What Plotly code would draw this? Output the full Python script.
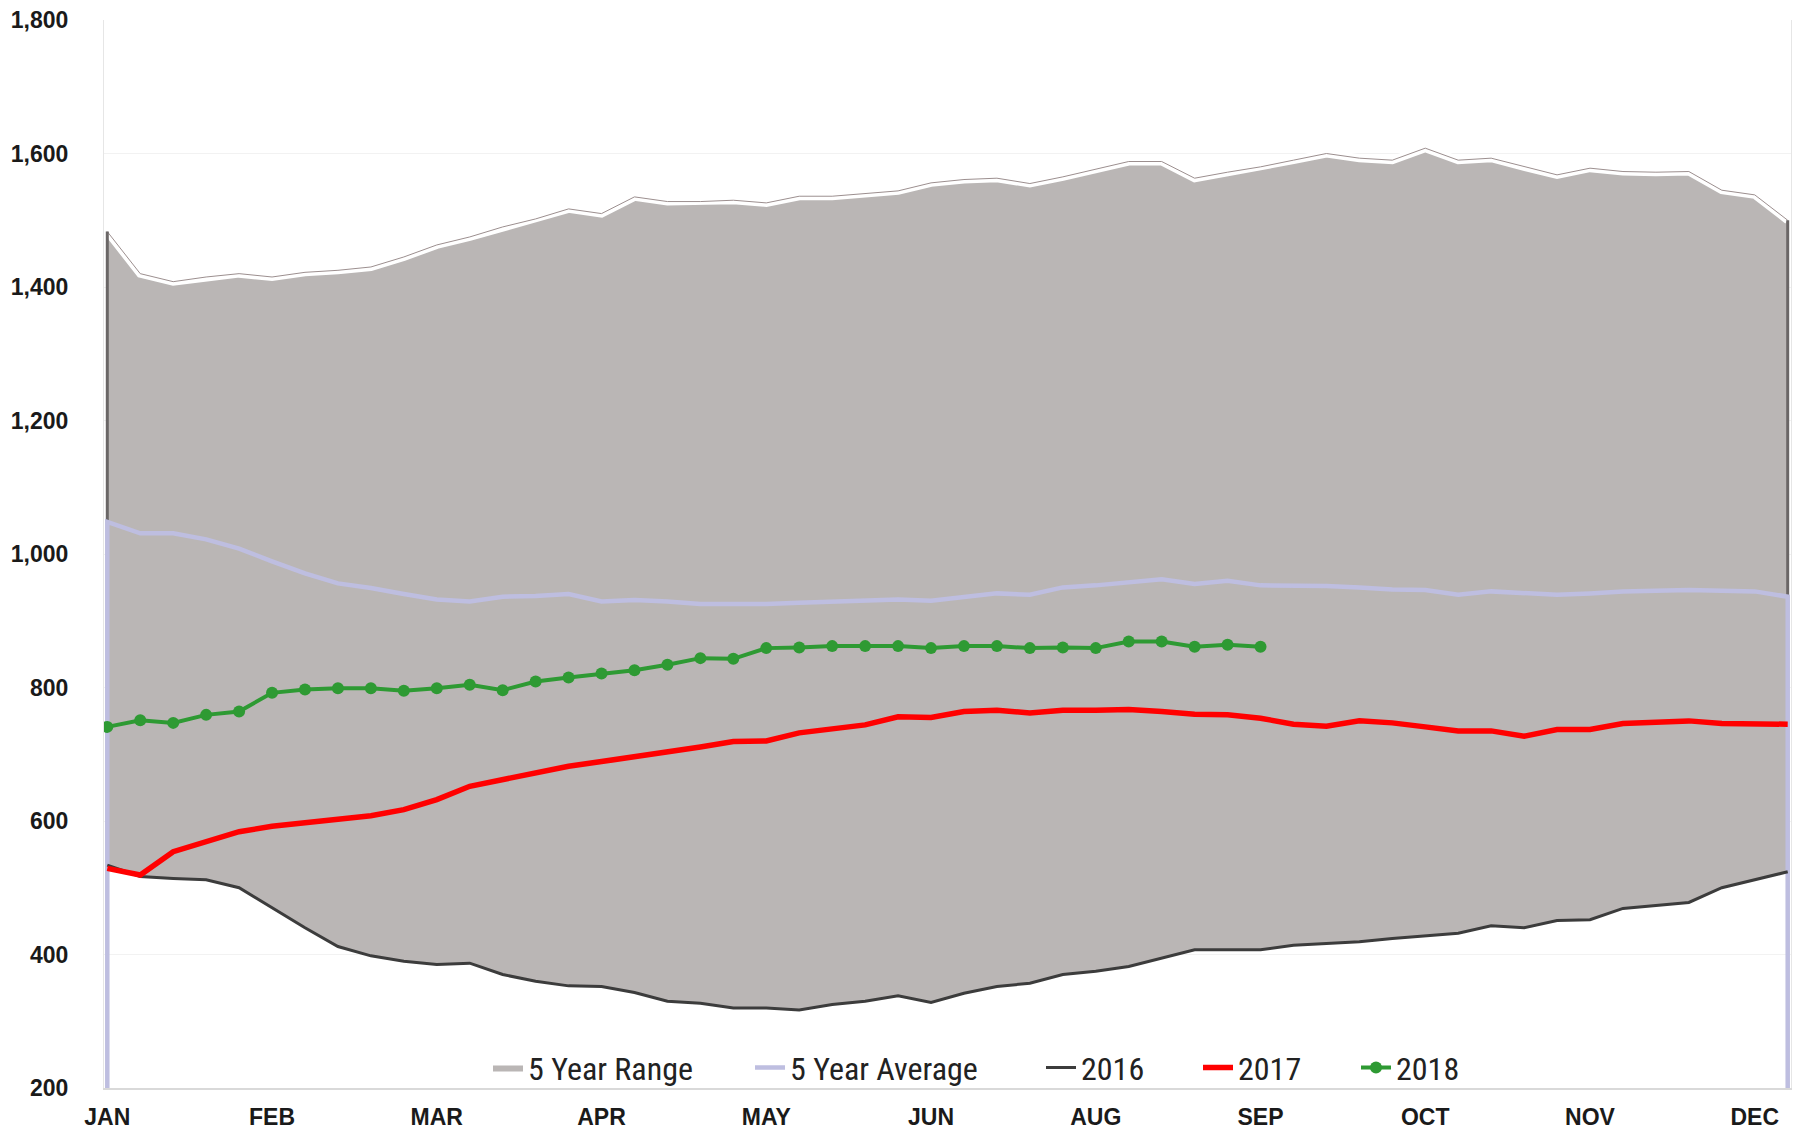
import plotly.graph_objects as go

# ---------------- data (weekly, 52 weeks) ----------------
weeks = list(range(52))
month_ticks = [0, 5, 10, 15, 20, 25, 30, 35, 40, 45, 50]
month_labels = ["JAN", "FEB", "MAR", "APR", "MAY", "JUN", "AUG", "SEP", "OCT", "NOV", "DEC"]

range_max = [1483, 1420, 1408, 1415, 1420, 1415, 1422, 1425, 1430, 1445,
             1463, 1475, 1490, 1502, 1517, 1510, 1535, 1528, 1528, 1530,
             1526, 1536, 1536, 1540, 1544, 1556, 1561, 1563, 1555, 1565,
             1577, 1588, 1588, 1563, 1572, 1580, 1590, 1600, 1593, 1590,
             1608, 1590, 1593, 1580, 1568, 1578, 1573, 1572, 1573, 1545,
             1538, 1500]

range_min = [534, 517, 514, 512, 500, 470, 440, 412, 398, 390,
             385, 387, 370, 360, 353, 352, 343, 330, 327, 320,
             320, 317, 325, 330, 338, 328, 342, 352, 357, 370,
             375, 382, 395, 407, 407, 407, 414, 416, 419, 424,
             428, 432, 443, 440, 451, 452, 469, 474, 478, 500,
             512, 524]

avg_5yr = [1048, 1031, 1031, 1022, 1008, 989, 971, 956, 949, 940,
           932, 929, 936, 937, 940, 929, 931, 929, 925, 925,
           925, 927, 929, 931, 932, 930, 936, 941, 939, 950,
           953, 957, 962, 955, 960, 953, 953, 952, 950, 947,
           946, 939, 944, 941, 939, 941, 944, 945, 946, 945,
           944, 936]

y2016 = range_min

y2017 = [529, 519, 554, 569, 584, 592, 597, 602, 608, 617,
         632, 652, 662, 672, 682, 689, 696, 702, 711, 719,
         720, 732, 739, 744, 756, 755, 764, 766, 762, 766,
         766, 767, 764, 760, 759, 754, 745, 742, 750, 747,
         741, 735, 735, 727, 737, 737, 746, 747, 750, 746,
         745, 745]

y2018 = [741, 751, 747, 759, 764, 792, 797, 799, 799, 795,
         799, 804, 796, 809, 815, 821, 826, 834, 844, 843,
         859, 860, 862, 862, 862, 859, 862, 862, 859, 860,
         859, 869, 869, 861, 864, 861]

Y_MIN, Y_MAX = 200, 1800
y_ticks = list(range(200, 1801, 200))

# ---------------- figure ----------------
W, H = 1802, 1131
ML, MR, MT, MB = 104, 11, 20, 43
PW = W - ML - MR

fig = go.Figure()

GRAY_FILL = "#bab6b5"

# 5 year range band
fig.add_trace(go.Scatter(
    x=weeks + weeks[::-1],
    y=range_max + range_min[::-1],
    fill="toself", fillcolor=GRAY_FILL,
    line=dict(width=0), mode="lines",
    name="5 Year Range", hoverinfo="skip", legend="legend",
))
# bevel highlight on top edge
fig.add_trace(go.Scatter(
    x=weeks, y=range_max, mode="lines",
    line=dict(color="#ffffff", width=8), showlegend=False, hoverinfo="skip",
))
fig.add_trace(go.Scatter(
    x=weeks, y=range_max, mode="lines",
    line=dict(color="#9c8f8f", width=1), showlegend=False, hoverinfo="skip",
))
# dark side edges of band
fig.add_trace(go.Scatter(
    x=[weeks[0], weeks[0], None, weeks[-1], weeks[-1]],
    y=[range_min[0], range_max[0], None, range_min[-1], range_max[-1]],
    mode="lines", line=dict(color="#6a6666", width=3),
    showlegend=False, hoverinfo="skip",
))

# 5 year average (drops to the axis at both ends)
fig.add_trace(go.Scatter(
    x=[weeks[0]] + weeks + [weeks[-1]],
    y=[Y_MIN] + avg_5yr + [Y_MIN],
    mode="lines", line=dict(color="#bebee0", width=4.5),
    name="5 Year Average", legend="legend2",
))

fig.add_trace(go.Scatter(
    x=weeks, y=y2016, mode="lines",
    line=dict(color="#3c3c3c", width=3), name="2016", legend="legend3",
))
fig.add_trace(go.Scatter(
    x=weeks, y=y2017, mode="lines",
    line=dict(color="#ff0000", width=5.5), name="2017", legend="legend4",
))
fig.add_trace(go.Scatter(
    x=weeks[:len(y2018)], y=y2018, mode="lines+markers",
    line=dict(color="#2e9a33", width=4),
    marker=dict(color="#2e9a33", size=12, symbol="circle"),
    name="2018", legend="legend5",
))

LEG_FONT = dict(family="Liberation Sans Narrow, Roboto Condensed, Liberation Sans, Arial",
                size=32, color="#222222")


def leg(px_left):
    return dict(
        orientation="h", x=(px_left - ML) / PW, xanchor="left",
        y=0.019, yanchor="middle", bgcolor="rgba(0,0,0,0)",
        font=LEG_FONT, itemwidth=30,
    )


fig.update_layout(
    width=W, height=H,
    margin=dict(l=ML, r=MR, t=MT, b=MB),
    paper_bgcolor="white", plot_bgcolor="white",
    showlegend=True,
    legend=leg(530 - 42),
    legend2=leg(792 - 42),
    legend3=leg(1083 - 42),
    legend4=leg(1240 - 42),
    legend5=leg(1398 - 42),
    xaxis=dict(
        range=[-0.1, 51.1], tickmode="array",
        tickvals=month_ticks, ticktext=month_labels,
        showgrid=False, zeroline=False, automargin=False,
        showline=True, linecolor="#d9d9d9", linewidth=2,
        ticks="", ticklabelstandoff=7,
        tickfont=dict(family="Liberation Sans, Arial", size=23, color="#1a1a1a", weight="bold"),
    ),
    yaxis=dict(
        range=[Y_MIN, Y_MAX], tickmode="array", tickvals=y_ticks,
        tickformat=",", showgrid=True, gridcolor="#f2f2f2", gridwidth=1,
        zeroline=False, showline=True, linecolor="#e6e6e6", linewidth=1, mirror=True,
        automargin=False,
        ticks="", ticklabelstandoff=30,
        tickfont=dict(family="Liberation Sans, Arial", size=23, color="#1a1a1a", weight="bold"),
    ),
)

fig.write_html("out.html", config={"displayModeBar": False})

# remove the default page margin so the figure sits at the window's top-left
with open("out.html", "r", encoding="utf-8") as f:
    html = f.read()
html = html.replace("<body>", '<body style="margin:0;padding:0;overflow:hidden">', 1)
with open("out.html", "w", encoding="utf-8") as f:
    f.write(html)
